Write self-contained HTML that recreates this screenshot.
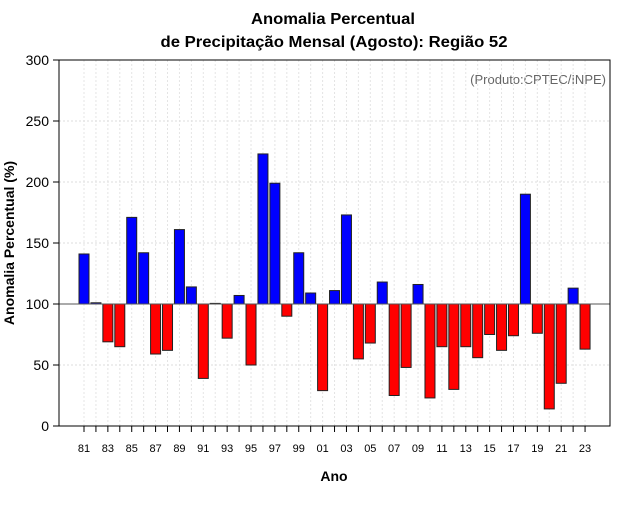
<!DOCTYPE html>
<html><head><meta charset="utf-8"><style>
body{margin:0;background:#fff;font-family:"Liberation Sans",sans-serif}
</style></head><body>
<svg id="chart" width="640" height="500" xmlns="http://www.w3.org/2000/svg" font-family="Liberation Sans, sans-serif">
<text x="333" y="24" text-anchor="middle" font-size="16" font-weight="bold" textLength="164" lengthAdjust="spacingAndGlyphs">Anomalia Percentual</text>
<text x="334" y="47" text-anchor="middle" font-size="16" font-weight="bold" textLength="347" lengthAdjust="spacingAndGlyphs">de Precipitação Mensal (Agosto): Região 52</text>
<text x="334" y="481" text-anchor="middle" font-size="14" font-weight="bold">Ano</text>
<text transform="translate(14,243) rotate(-90)" text-anchor="middle" font-size="14" font-weight="bold">Anomalia Percentual (%)</text>
<text x="606" y="84" text-anchor="end" font-size="13" fill="#666">(Produto:CPTEC/INPE)</text>
<g id="grid"></g><g id="bars"></g><g id="axes"></g>
<rect x="59" y="60" width="551" height="366" fill="none" stroke="#000"/>
</svg>
<script>
const years=[1981,1982,1983,1984,1985,1986,1987,1988,1989,1990,1991,1992,1993,1994,1995,1996,1997,1998,1999,2000,2001,2002,2003,2004,2005,2006,2007,2008,2009,2010,2011,2012,2013,2014,2015,2016,2017,2018,2019,2020,2021,2022,2023];
const values=[141,101,69,65,171,142,59,62,161,114,39,100.5,72,107,50,223,199,90,142,109,29,111,173,55,68,118,25,48,116,23,65,30,65,56,75,62,74,190,76,14,35,113,63];
const yTicks=[0,50,100,150,200,250,300];
const baseline=100;
const NS="http://www.w3.org/2000/svg";
const X0=59,X1=610,Y0=426;
const xs=y=>84+(y-1981)*11.93;
const ys=v=>Y0-v*1.22;
function mk(t,a,p){const e=document.createElementNS(NS,t);for(const k in a)e.setAttribute(k,a[k]);p.appendChild(e);return e;}
const grid=document.getElementById('grid'),bars=document.getElementById('bars'),axes=document.getElementById('axes');
yTicks.forEach(t=>{
 const l=mk('line',{x1:X0,x2:X1,y1:ys(t),y2:ys(t),stroke:'#ddd','stroke-dasharray':'2,2'},grid);
 
 
 const k=mk('line',{x1:X0-6,x2:X0,y1:ys(t),y2:ys(t),stroke:'#000'},axes);
 
 
 const tx=mk('text',{x:X0-10,y:ys(t)+5,'text-anchor':'end','font-size':14},axes);
 tx.textContent=t;
 
 
});
years.forEach((yr,i)=>{
 const x=xs(yr);
 const g=mk('line',{x1:x,x2:x,y1:60,y2:Y0,stroke:'#e4e4e4','stroke-dasharray':'2,2'},grid);
 
 
 const k=mk('line',{x1:x,x2:x,y1:Y0,y2:Y0+6,stroke:'#000'},axes);
 
 
 if(yr%2===1){
  const tx=mk('text',{x:x,y:452,'text-anchor':'middle','font-size':11},axes);
  tx.textContent=String(yr).slice(2);
  
  
 }
 const v=values[i];
 const top=Math.min(ys(v),ys(baseline)),h=Math.abs(ys(v)-ys(baseline));
 const r=mk('rect',{x:x-5,y:top,width:10,height:Math.max(h,0.5),fill:v>=baseline?'#0000ff':'#ff0000',stroke:'#222','stroke-width':1},bars);
 
 
});
const bl=mk('line',{x1:X0,x2:X1,y1:ys(baseline),y2:ys(baseline),stroke:'#555'},axes);


</script>
</body></html>
